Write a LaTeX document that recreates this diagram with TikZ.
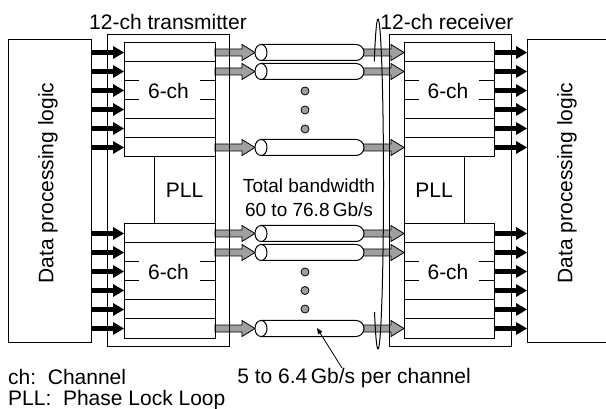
\documentclass[tikz,border=0pt]{standalone}
\usepackage{fontspec}
\setmainfont{Liberation Sans}
\usetikzlibrary{arrows.meta, positioning, calc, backgrounds}

\tikzset{
  box/.style={draw, line width=1pt, inner sep=0pt, outer sep=0pt, font=\fontsize{21}{25}\selectfont},
  txt/.style={inner sep=0pt, font=\fontsize{21}{25}\selectfont},
  blackarrow/.style={line width=5pt, -{Triangle[length=11pt, width=13pt, line width=0pt]}},
  grayarrow/.style={draw, line width=0.8pt, fill=gray!75},
  dot/.style={draw, line width=0.8pt, fill=gray!75},
  cable/.pic={
    \draw[line width=1pt, fill=white] (0,-8) -- (95,-8)
      arc[start angle=90, end angle=-90, radius=8pt] -- (0,8) -- cycle;
    \draw[line width=1pt, fill=white] (0,0) ellipse[x radius=6pt, y radius=8pt];
    \coordinate (-in) at (-6,0);
    \coordinate (-out) at (97,0);
  }
}

% block arrow from #1 to #2 (same row)
\newcommand{\grayArrow}[2]{%
  \draw[grayarrow] ($(#1)+(0,-3.5)$) -- ($(#2)+(-13,-3.5)$) -- ($(#2)+(-13,-8)$)
    -- (#2) -- ($(#2)+(-13,8)$) -- ($(#2)+(-13,3.5)$) -- ($(#1)+(0,3.5)$) -- cycle;}

\begin{document}
\begin{tikzpicture}[x=1pt, y=-1pt]
    \useasboundingbox (0,0) rectangle (606,409);

    % Data processing logic
    \node[box, minimum width=83pt, minimum height=302pt] (dplL) at (49.5,191) {};
    \node[box, minimum width=93pt, minimum height=302pt] (dplR) at (573.5,191) {};
    \node[txt, rotate=90] (dplLtxt) at (48,183) {Data processing logic};
    \node[txt, rotate=90] (dplRtxt) at (567,183) {Data processing logic};

    % Transmitter and receiver
    \node[box, minimum width=122pt, minimum height=311pt] (tx) at (168,190.5) {};
    \node[box, minimum width=122pt, minimum height=311pt] (rx) at (450,190.5) {};
    \node[txt] (txlbl) at (168,22) {12-ch transmitter};
    \node[txt] (rxlbl) at (447,22) {12-ch receiver};

    \node[box, minimum width=91pt, minimum height=114pt] (txa) at (169.5,100) {};
    \node[box, minimum width=91pt, minimum height=114pt] (txb) at (169.5,281) {};
    \node[box, minimum width=61pt, minimum height=67pt] (txpll) at (184.5,190.5) {PLL};
    \node[box, minimum width=90pt, minimum height=114pt] (rxa) at (449,100) {};
    \node[box, minimum width=90pt, minimum height=114pt] (rxb) at (449,281) {};
    \node[box, minimum width=60pt, minimum height=67pt] (rxpll) at (434,190.5) {PLL};

    % Rows of the 6-ch blocks
    \foreach \b in {txa,txb,rxa,rxb} {
        \foreach \d in {19,76,95}
            \draw[line width=1pt] ($(\b.north west)+(0,\d)$) -- ($(\b.north east)+(0,\d)$);
        \foreach \d in {38,57} {
            \draw[line width=1pt] ($(\b.north west)+(0,\d)$) -- ++(15,0);
            \draw[line width=1pt] ($(\b.north east)+(0,\d)$) -- ++(-15,0);
        }
        \foreach \k in {1,...,6} {
            \coordinate (\b-w\k) at ($(\b.north west)+(0,19*\k-9.5)$);
            \coordinate (\b-e\k) at ($(\b.north east)+(0,19*\k-9.5)$);
        }
        \node[txt] (\b-lbl) at ($(\b.north)+(-1,47.5)$) {6-ch};
    }

    % Parallel data
    \foreach \k in {1,...,6} {
        \draw[blackarrow] (dplL.east |- txa-w\k) -- (txa-w\k);
        \draw[blackarrow] (dplL.east |- txb-w\k) -- (txb-w\k);
        \draw[blackarrow] (rxa-e\k) -- (dplR.west |- rxa-e\k);
        \draw[blackarrow] (rxb-e\k) -- (dplR.west |- rxb-e\k);
    }

    % Cables
    \foreach \b in {txa,txb}
        \foreach \k in {1,2,6}
            \pic (cab\b\k) at ($(\b-e\k)+(46,0)$) {cable};

    \begin{pgfonlayer}{background}
        \foreach \b/\r in {txa/rxa, txb/rxb}
            \foreach \k in {1,2,6} {
                \grayArrow{\b-e\k}{cab\b\k-in}
                \grayArrow{cab\b\k-out}{\r-w\k}
            }
    \end{pgfonlayer}

    \foreach \y in {91,110,129,272,290.5,309}
        \draw[dot] (305,\y) circle[radius=4pt];

    % Bundle
    \coordinate (tie) at (378,184);
    \draw[line width=1pt] ($(tie)+(132:5.5pt and 165pt)$)
        arc[start angle=132, end angle=-129, x radius=5.5pt, y radius=165pt];

    \node[txt, align=center, font=\fontsize{19}{24}\selectfont] (bw) at (309,198) {Total bandwidth\\60 to 76.8\,Gb/s};

    % Notes
    \node[txt, anchor=west] (ch) at (8,377) {ch:\ \ Channel};
    \node[txt, anchor=west] (pll) at (8,400) {PLL:\ \ Phase Lock Loop};
    \node[txt] (rate) at (354,378) {5 to 6.4\,Gb/s per channel};
    \coordinate (ptr) at (317,328);
    \draw[line width=0.8pt, -{Triangle[length=6pt, width=5pt, line width=0pt]}] ([xshift=-12pt]rate.north) -- (ptr);
\end{tikzpicture}
\end{document}
